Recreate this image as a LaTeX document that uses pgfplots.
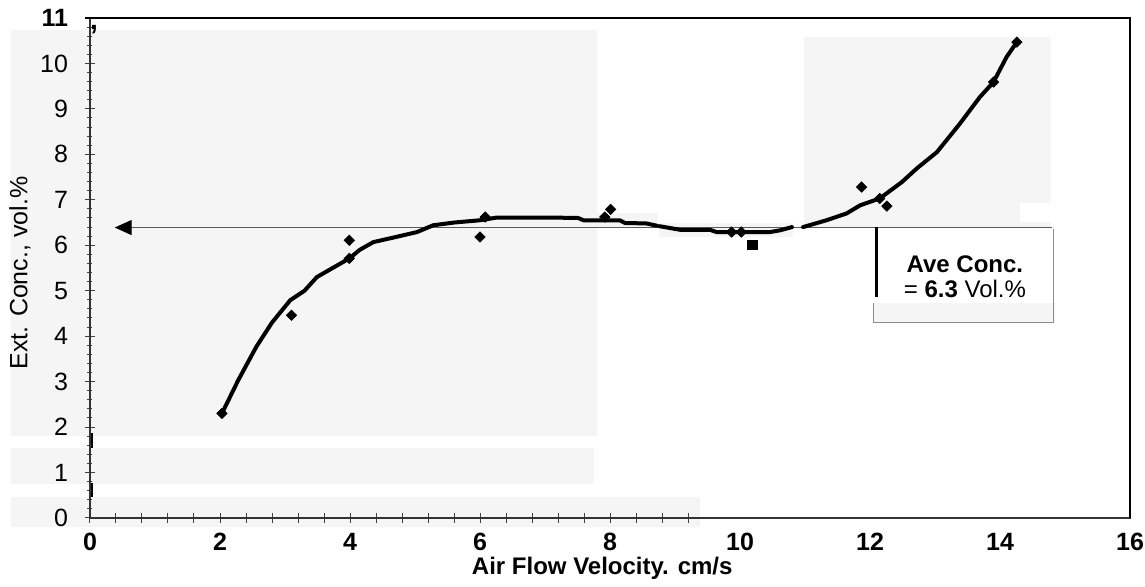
\documentclass[border=0pt]{standalone}
\usepackage{fontspec}
\setmainfont{Liberation Sans}
\usepackage{pgfplots}
\pgfplotsset{compat=1.18}
\usetikzlibrary{arrows.meta}
\definecolor{scanpatch}{HTML}{F5F5F5}
\definecolor{refline}{HTML}{5A5A5A}

\pgfplotsset{frame/.style={
  scale only axis, width=520pt, height=250pt,
  xmin=0, xmax=16, ymin=0, ymax=11, clip=false}}

\begin{document}
\begin{tikzpicture}
% light patches left by the scan, underneath everything
\begin{axis}[frame, hide axis]
\fill[scanpatch] (axis cs:-1.21,1.81) rectangle (axis cs:7.8,10.73);
\fill[scanpatch] (axis cs:-1.21,0.75) rectangle (axis cs:7.76,1.54);
\fill[scanpatch] (axis cs:-1.21,-0.19) rectangle (axis cs:9.38,0.46);
\fill[scanpatch] (axis cs:7.8,6.4) rectangle (axis cs:8.74,6.7);
\fill[scanpatch] (axis cs:8.76,6.18) rectangle (axis cs:10.82,6.48);
\fill[scanpatch] (axis cs:10.98,6.4) rectangle (axis cs:14.79,10.58);
\fill[white] (axis cs:14.3,6.51) rectangle (axis cs:14.8,6.92);
\fill[scanpatch] (axis cs:12.06,4.31) rectangle (axis cs:14.85,4.72);
\end{axis}

\begin{axis}[
  frame,
  axis line style={draw=black!80, line width=0.6pt},
  xtick pos=bottom, ytick pos=left,
  xtick={0,0.4,0.8,1.2,1.6,2,2.4,2.8,3.2,3.6,4,4.4,4.8,5.2,5.6,6,6.4,6.8,7.2,7.6,8,8.4,8.8,9.2},
  xticklabels={},
  extra x ticks={0,2,4,6,8,10,12,14,16},
  extra x tick labels={0,2,4,6,8,10,12,14,16},
  extra x tick style={major tick length=0pt},
  xticklabel style={font=\fontsize{12.5}{13}\selectfont\bfseries, yshift=-4pt},
  ytick={0,1,2,3,4,5,6,7,8,9,10,11},
  yticklabels={0,1,2,3,4,5,6,7,8,9,10,\textbf{11}},
  minor y tick num=4,
  yticklabel style={font=\fontsize{12.5}{13}\selectfont, xshift=-5pt},
  tick align=center,
  major tick length=5pt, minor tick length=2.5pt,
  tick style={black!75, line width=0.5pt},
  xlabel={\textbf{Air Flow Velocity. cm/s}},
  xlabel style={at={(axis description cs:0.4925,-0.1)}, anchor=center,
    font=\fontsize{12}{13}\selectfont},
  ylabel={Ext. Conc., vol.\%},
  ylabel style={at={(axis description cs:-0.0673,0.49)}, anchor=center,
    font=\fontsize{12.5}{13}\selectfont},
]
% frame top and right, scan marks on the y axis
\draw[black, line width=1pt] (axis cs:-0.08,11) -- (axis cs:16,11) -- (axis cs:16,0);
\draw[black, line width=1.1pt] (axis cs:0.03,1.54) -- (axis cs:0.03,1.86);
\draw[black, line width=1.1pt] (axis cs:0.03,0.46) -- (axis cs:0.03,0.78);
\node[font=\fontsize{14}{14}\selectfont\bfseries] at (axis cs:0.06,10.74) {,};

% average line and note
\draw[refline, line width=0.6pt, -{Triangle[length=8.5pt,width=7.5pt,black]}]
  (axis cs:14.8,6.39) -- (axis cs:0.38,6.39);
\draw[black, line width=1.2pt] (axis cs:12.1,6.40) -- (axis cs:12.1,4.86);
\draw[refline!70, line width=0.5pt] (axis cs:14.82,6.36) -- (axis cs:14.82,4.31)
  -- (axis cs:12.06,4.31) -- (axis cs:12.06,4.72);
\node[font=\fontsize{12}{12.5}\selectfont, align=center] at (axis cs:13.46,5.31)
  {\textbf{Ave Conc.}\\= \textbf{6.3} Vol.\%};

% fitted curve (three pieces, as drawn)
\addplot[black, line width=2pt, line join=round, line cap=round] coordinates {
 (2.03,2.30) (2.28,3.03) (2.56,3.77) (2.80,4.30) (3.08,4.79) (3.30,5.00)
 (3.49,5.30) (3.72,5.49) (3.99,5.71) (4.15,5.90) (4.36,6.07) (4.70,6.18)
 (5.03,6.29) (5.28,6.44) (5.60,6.50) (6.00,6.55) (6.26,6.61) (7.08,6.61)
 (7.51,6.60) (7.59,6.55) (8.15,6.55) (8.23,6.49) (8.56,6.48) (8.72,6.43)
};
\addplot[black, line width=2pt, line join=round, line cap=round] coordinates {
 (8.76,6.42) (8.92,6.38) (9.08,6.34) (9.54,6.34) (9.64,6.29) (10.46,6.29)
 (10.62,6.33) (10.80,6.40)
};
\addplot[black, line width=2pt, line join=round, line cap=round] coordinates {
 (10.97,6.40) (11.33,6.55) (11.64,6.70) (11.85,6.88) (12.15,7.03) (12.49,7.39)
 (12.72,7.69) (13.03,8.05) (13.38,8.67) (13.69,9.26) (13.90,9.59) (14.10,10.14)
 (14.26,10.47)
};

% measured points
\addplot[only marks, mark=square*, mark size=1.8pt, mark options={rotate=45, fill=black, draw=black}] coordinates {
 (2.03,2.30) (3.10,4.46) (3.99,6.11) (3.99,5.71) (6.00,6.18) (6.08,6.62)
 (7.92,6.62) (8.01,6.79) (9.87,6.29) (10.02,6.29) (11.87,7.28) (12.15,7.03)
 (12.26,6.86) (13.90,9.59) (14.26,10.47)
};
\addplot[only marks, mark=square*, mark size=2.3pt, mark options={fill=black, draw=black}] coordinates {
 (10.19,6.00)
};
\end{axis}
\pgfresetboundingbox
\path (-45pt,-34.5pt) rectangle (527.5pt,259pt);
\end{tikzpicture}
\end{document}
